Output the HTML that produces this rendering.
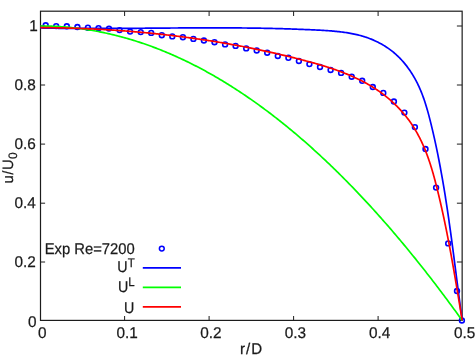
<!DOCTYPE html>
<html><head><meta charset="utf-8"><style>
html,body{margin:0;padding:0;background:#fff;}
svg{display:block;}
text{font-family:"Liberation Sans",sans-serif;font-size:15.5px;fill:#1a1a1a;stroke:#1a1a1a;stroke-width:0.25px;text-rendering:geometricPrecision;}
</style></head><body>
<svg width="476" height="357" viewBox="0 0 476 357">
<rect width="476" height="357" fill="#fff"/>
<rect x="40.5" y="11.2" width="421.65" height="309.2" fill="none" stroke="#1c1c1c" stroke-width="1.2"/>
<g fill="none" stroke="#1c1c1c" stroke-width="1"><path d="M124.6,320.4 V316.0 M124.6,11.2 V16.0"/><path d="M209.1,320.4 V316.0 M209.1,11.2 V16.0"/><path d="M293.6,320.4 V316.0 M293.6,11.2 V16.0"/><path d="M378.1,320.4 V316.0 M378.1,11.2 V16.0"/><path d="M40.5,262.0 H45.1 M462.15,262.0 H456.9"/><path d="M40.5,203.2 H45.1 M462.15,203.2 H456.9"/><path d="M40.5,144.1 H45.1 M462.15,144.1 H456.9"/><path d="M40.5,85.0 H45.1 M462.15,85.0 H456.9"/><path d="M40.5,26.0 H45.1 M462.15,26.0 H456.9"/></g>
<g fill="none" stroke="#0000ff" stroke-width="1.6"><circle cx="45.7" cy="25.3" r="2.4"/><circle cx="56.2" cy="26.1" r="2.4"/><circle cx="66.8" cy="26.3" r="2.4"/><circle cx="77.4" cy="27.0" r="2.4"/><circle cx="87.9" cy="27.7" r="2.4"/><circle cx="98.5" cy="28.2" r="2.4"/><circle cx="109.0" cy="28.6" r="2.4"/><circle cx="119.6" cy="30.1" r="2.4"/><circle cx="130.1" cy="31.6" r="2.4"/><circle cx="140.7" cy="32.1" r="2.4"/><circle cx="151.2" cy="32.9" r="2.4"/><circle cx="161.8" cy="35.2" r="2.4"/><circle cx="172.3" cy="36.4" r="2.4"/><circle cx="182.9" cy="37.2" r="2.4"/><circle cx="193.4" cy="38.9" r="2.4"/><circle cx="203.9" cy="40.5" r="2.4"/><circle cx="214.5" cy="42.2" r="2.4"/><circle cx="225.1" cy="44.4" r="2.4"/><circle cx="235.6" cy="45.9" r="2.4"/><circle cx="246.2" cy="48.4" r="2.4"/><circle cx="256.7" cy="50.5" r="2.4"/><circle cx="267.2" cy="52.7" r="2.4"/><circle cx="277.8" cy="56.0" r="2.4"/><circle cx="288.4" cy="57.8" r="2.4"/><circle cx="298.9" cy="61.0" r="2.4"/><circle cx="309.4" cy="64.1" r="2.4"/><circle cx="320.0" cy="67.0" r="2.4"/><circle cx="330.6" cy="70.0" r="2.4"/><circle cx="341.1" cy="72.9" r="2.4"/><circle cx="351.7" cy="76.7" r="2.4"/><circle cx="362.2" cy="80.8" r="2.4"/><circle cx="372.8" cy="87.0" r="2.4"/><circle cx="383.3" cy="92.9" r="2.4"/><circle cx="393.9" cy="101.5" r="2.4"/><circle cx="404.4" cy="112.6" r="2.4"/><circle cx="414.9" cy="127.1" r="2.4"/><circle cx="425.5" cy="149.0" r="2.4"/><circle cx="436.1" cy="187.6" r="2.4"/><circle cx="448.2" cy="243.4" r="2.4"/><circle cx="457.0" cy="291.0" r="2.4"/><circle cx="461.9" cy="320.5" r="2.4"/></g>
<path d="M40.40,28.00 L41.69,28.02 L42.98,28.05 L44.27,28.07 L45.56,28.09 L46.85,28.12 L48.14,28.14 L49.43,28.16 L50.72,28.18 L52.01,28.20 L53.30,28.21 L54.58,28.23 L55.87,28.25 L57.16,28.26 L58.45,28.28 L59.73,28.29 L61.02,28.31 L62.31,28.32 L63.59,28.33 L64.88,28.35 L66.17,28.36 L67.45,28.37 L68.74,28.38 L70.02,28.39 L71.31,28.40 L72.59,28.41 L73.88,28.41 L75.16,28.42 L76.44,28.43 L77.73,28.43 L79.01,28.44 L80.30,28.44 L81.58,28.45 L82.86,28.45 L84.14,28.46 L85.43,28.46 L86.71,28.46 L87.99,28.46 L89.27,28.47 L90.55,28.47 L91.84,28.47 L93.12,28.47 L94.40,28.47 L95.68,28.47 L96.96,28.47 L98.24,28.47 L99.52,28.46 L100.80,28.46 L102.08,28.46 L103.36,28.46 L104.64,28.45 L105.92,28.45 L107.20,28.45 L108.48,28.44 L109.76,28.44 L111.04,28.43 L112.32,28.43 L113.60,28.42 L114.88,28.42 L116.15,28.41 L117.43,28.40 L118.71,28.40 L119.99,28.39 L121.27,28.38 L122.54,28.38 L123.82,28.37 L125.10,28.36 L126.38,28.35 L127.65,28.34 L128.93,28.34 L130.21,28.33 L131.49,28.32 L132.76,28.31 L134.04,28.30 L135.32,28.29 L136.59,28.28 L137.87,28.27 L139.15,28.27 L140.42,28.26 L141.70,28.25 L142.98,28.24 L144.25,28.23 L145.53,28.22 L146.81,28.21 L148.08,28.20 L149.36,28.19 L150.63,28.18 L151.91,28.17 L153.19,28.16 L154.46,28.15 L155.74,28.14 L157.01,28.13 L158.29,28.12 L159.56,28.11 L160.84,28.10 L162.12,28.09 L163.39,28.08 L164.67,28.07 L165.94,28.06 L167.22,28.05 L168.49,28.04 L169.77,28.03 L171.05,28.02 L172.32,28.01 L173.60,28.00 L174.87,28.00 L176.15,27.99 L177.42,27.98 L178.70,27.97 L179.97,27.96 L181.25,27.95 L182.53,27.95 L183.80,27.94 L185.08,27.93 L186.35,27.92 L187.63,27.92 L188.90,27.91 L190.18,27.91 L191.45,27.90 L192.73,27.89 L194.01,27.89 L195.28,27.88 L196.56,27.88 L197.83,27.87 L199.11,27.87 L200.39,27.87 L201.66,27.86 L202.94,27.86 L204.21,27.86 L205.49,27.85 L206.77,27.85 L208.04,27.85 L209.32,27.85 L210.60,27.85 L211.87,27.85 L213.15,27.85 L214.43,27.85 L215.70,27.85 L216.98,27.85 L218.26,27.85 L219.54,27.85 L220.81,27.86 L222.09,27.86 L223.37,27.86 L224.65,27.87 L225.92,27.87 L227.20,27.88 L228.48,27.88 L229.76,27.89 L231.04,27.89 L232.32,27.90 L233.59,27.91 L234.87,27.92 L236.15,27.93 L237.43,27.94 L238.71,27.95 L239.99,27.96 L241.27,27.97 L242.55,27.98 L243.83,27.99 L245.11,28.01 L246.39,28.02 L247.67,28.04 L248.95,28.05 L250.23,28.07 L251.51,28.08 L252.79,28.10 L254.07,28.12 L255.35,28.14 L256.63,28.16 L257.92,28.18 L259.20,28.20 L260.48,28.22 L261.76,28.24 L263.04,28.27 L264.33,28.29 L265.61,28.32 L266.89,28.34 L268.18,28.37 L269.46,28.40 L270.74,28.43 L272.03,28.45 L273.31,28.48 L274.59,28.52 L275.88,28.55 L277.16,28.58 L278.45,28.61 L279.73,28.65 L281.02,28.68 L282.31,28.72 L283.59,28.76 L284.88,28.79 L286.16,28.83 L287.45,28.87 L288.74,28.91 L290.02,28.96 L291.31,29.00 L292.60,29.04 L293.89,29.09 L295.18,29.13 L296.46,29.18 L297.75,29.23 L299.04,29.28 L300.33,29.33 L301.62,29.38 L302.91,29.43 L304.20,29.48 L305.49,29.54 L306.78,29.59 L308.07,29.65 L309.37,29.70 L310.66,29.76 L311.95,29.82 L313.24,29.88 L314.53,29.95 L315.83,30.01 L317.12,30.07 L318.41,30.14 L319.71,30.21 L321.00,30.27 L322.29,30.35 L323.59,30.42 L324.88,30.50 L326.17,30.58 L327.47,30.66 L328.76,30.75 L330.05,30.85 L331.34,30.95 L332.62,31.05 L333.91,31.16 L335.19,31.28 L336.48,31.40 L337.76,31.53 L339.04,31.67 L340.32,31.82 L341.59,31.97 L342.86,32.14 L344.13,32.31 L345.40,32.49 L346.67,32.68 L347.93,32.88 L349.19,33.09 L350.45,33.32 L351.70,33.55 L352.95,33.80 L354.19,34.06 L355.44,34.33 L356.68,34.61 L357.91,34.91 L359.14,35.22 L360.37,35.54 L361.59,35.88 L362.81,36.24 L364.02,36.61 L365.23,36.99 L366.43,37.39 L367.63,37.81 L368.82,38.24 L370.01,38.69 L371.19,39.16 L372.36,39.65 L373.53,40.15 L374.69,40.66 L375.85,41.20 L376.99,41.75 L378.13,42.31 L379.26,42.89 L380.38,43.49 L381.49,44.11 L382.60,44.74 L383.69,45.39 L384.78,46.05 L385.85,46.73 L386.91,47.43 L387.96,48.14 L389.01,48.87 L390.03,49.61 L391.05,50.37 L392.06,51.15 L393.05,51.94 L394.03,52.75 L395.00,53.57 L395.95,54.41 L396.89,55.27 L397.81,56.14 L398.73,57.02 L399.63,57.92 L400.51,58.84 L401.38,59.76 L402.24,60.71 L403.09,61.66 L403.92,62.63 L404.74,63.61 L405.54,64.60 L406.34,65.60 L407.11,66.62 L407.88,67.64 L408.63,68.68 L409.37,69.72 L410.10,70.78 L410.81,71.85 L411.51,72.93 L412.19,74.01 L412.87,75.11 L413.53,76.21 L414.17,77.32 L414.81,78.44 L415.43,79.57 L416.04,80.70 L416.63,81.84 L417.21,82.99 L417.78,84.14 L418.34,85.30 L418.88,86.46 L419.41,87.63 L419.93,88.81 L420.44,89.99 L420.93,91.17 L421.42,92.36 L421.89,93.55 L422.35,94.75 L422.80,95.95 L423.24,97.16 L423.68,98.37 L424.10,99.58 L424.51,100.80 L424.92,102.02 L425.31,103.24 L425.70,104.47 L426.08,105.70 L426.46,106.93 L426.83,108.16 L427.19,109.40 L427.54,110.64 L427.89,111.88 L428.23,113.12 L428.57,114.36 L428.90,115.61 L429.23,116.86 L429.55,118.10 L429.87,119.35 L430.19,120.60 L430.50,121.85 L430.81,123.10 L431.12,124.36 L431.42,125.61 L431.72,126.86 L432.02,128.11 L432.32,129.36 L432.62,130.61 L432.91,131.87 L433.20,133.12 L433.49,134.37 L433.77,135.63 L434.06,136.88 L434.34,138.13 L434.62,139.39 L434.89,140.64 L435.17,141.89 L435.44,143.15 L435.71,144.40 L435.98,145.66 L436.25,146.91 L436.51,148.17 L436.77,149.42 L437.03,150.68 L437.29,151.93 L437.55,153.19 L437.80,154.44 L438.06,155.70 L438.31,156.96 L438.56,158.21 L438.80,159.47 L439.05,160.73 L439.29,161.98 L439.53,163.24 L439.77,164.50 L440.01,165.75 L440.25,167.01 L440.48,168.27 L440.71,169.53 L440.95,170.79 L441.17,172.04 L441.40,173.30 L441.63,174.56 L441.85,175.82 L442.08,177.08 L442.30,178.34 L442.52,179.60 L442.74,180.86 L442.95,182.12 L443.17,183.38 L443.38,184.64 L443.60,185.90 L443.81,187.16 L444.02,188.42 L444.23,189.68 L444.43,190.94 L444.64,192.20 L444.84,193.46 L445.05,194.72 L445.25,195.98 L445.45,197.25 L445.65,198.51 L445.85,199.77 L446.04,201.03 L446.24,202.29 L446.43,203.56 L446.63,204.82 L446.82,206.08 L447.01,207.34 L447.20,208.61 L447.39,209.87 L447.58,211.13 L447.77,212.40 L447.95,213.66 L448.14,214.93 L448.32,216.19 L448.51,217.45 L448.69,218.72 L448.87,219.98 L449.05,221.25 L449.23,222.51 L449.41,223.78 L449.59,225.04 L449.77,226.31 L449.94,227.57 L450.12,228.84 L450.30,230.10 L450.47,231.37 L450.65,232.64 L450.82,233.90 L450.99,235.17 L451.16,236.43 L451.34,237.70 L451.51,238.97 L451.68,240.23 L451.85,241.50 L452.02,242.77 L452.19,244.04 L452.35,245.30 L452.52,246.57 L452.69,247.84 L452.86,249.11 L453.02,250.37 L453.19,251.64 L453.36,252.91 L453.52,254.18 L453.69,255.45 L453.85,256.72 L454.02,257.98 L454.18,259.25 L454.35,260.52 L454.51,261.79 L454.67,263.06 L454.84,264.33 L455.00,265.60 L455.17,266.87 L455.33,268.14 L455.49,269.41 L455.66,270.68 L455.82,271.95 L455.98,273.22 L456.15,274.49 L456.31,275.76 L456.47,277.03 L456.64,278.30 L456.80,279.57 L456.96,280.84 L457.13,282.11 L457.29,283.38 L457.46,284.66 L457.62,285.93 L457.78,287.20 L457.95,288.47 L458.11,289.74 L458.28,291.01 L458.44,292.29 L458.61,293.56 L458.78,294.83 L458.94,296.10 L459.11,297.38 L459.28,298.65 L459.44,299.92 L459.61,301.19 L459.78,302.47 L459.95,303.74 L460.12,305.01 L460.29,306.29 L460.46,307.56 L460.63,308.83 L460.80,310.11 L460.98,311.38 L461.15,312.65 L461.32,313.93 L461.50,315.20 L461.67,316.48 L461.85,317.75 L462.02,319.03 L462.20,320.30" fill="none" stroke="#0000ff" stroke-width="1.7" stroke-linejoin="round"/>
<path d="M40.40,26.00 L41.81,26.00 L43.22,26.01 L44.63,26.03 L46.04,26.05 L47.46,26.08 L48.87,26.12 L50.28,26.16 L51.69,26.21 L53.10,26.27 L54.51,26.33 L55.92,26.40 L57.33,26.47 L58.74,26.56 L60.15,26.65 L61.57,26.74 L62.98,26.84 L64.39,26.95 L65.80,27.07 L67.21,27.19 L68.62,27.32 L70.03,27.45 L71.44,27.59 L72.85,27.74 L74.26,27.90 L75.68,28.06 L77.09,28.23 L78.50,28.40 L79.91,28.58 L81.32,28.77 L82.73,28.97 L84.14,29.17 L85.55,29.37 L86.96,29.59 L88.38,29.81 L89.79,30.04 L91.20,30.27 L92.61,30.51 L94.02,30.76 L95.43,31.01 L96.84,31.27 L98.25,31.54 L99.66,31.81 L101.07,32.09 L102.49,32.38 L103.90,32.67 L105.31,32.97 L106.72,33.28 L108.13,33.59 L109.54,33.91 L110.95,34.24 L112.36,34.57 L113.77,34.91 L115.18,35.26 L116.60,35.61 L118.01,35.97 L119.42,36.33 L120.83,36.71 L122.24,37.09 L123.65,37.47 L125.06,37.86 L126.47,38.26 L127.88,38.67 L129.30,39.08 L130.71,39.50 L132.12,39.92 L133.53,40.35 L134.94,40.79 L136.35,41.24 L137.76,41.69 L139.17,42.15 L140.58,42.61 L141.99,43.08 L143.41,43.56 L144.82,44.04 L146.23,44.54 L147.64,45.03 L149.05,45.54 L150.46,46.05 L151.87,46.57 L153.28,47.09 L154.69,47.62 L156.11,48.16 L157.52,48.70 L158.93,49.25 L160.34,49.81 L161.75,50.37 L163.16,50.94 L164.57,51.52 L165.98,52.10 L167.39,52.69 L168.80,53.29 L170.22,53.89 L171.63,54.50 L173.04,55.12 L174.45,55.74 L175.86,56.37 L177.27,57.01 L178.68,57.65 L180.09,58.30 L181.50,58.95 L182.91,59.61 L184.33,60.28 L185.74,60.96 L187.15,61.64 L188.56,62.33 L189.97,63.03 L191.38,63.73 L192.79,64.44 L194.20,65.15 L195.61,65.87 L197.03,66.60 L198.44,67.34 L199.85,68.08 L201.26,68.83 L202.67,69.58 L204.08,70.34 L205.49,71.11 L206.90,71.88 L208.31,72.66 L209.72,73.45 L211.14,74.25 L212.55,75.05 L213.96,75.85 L215.37,76.67 L216.78,77.49 L218.19,78.32 L219.60,79.15 L221.01,79.99 L222.42,80.84 L223.83,81.69 L225.25,82.55 L226.66,83.42 L228.07,84.29 L229.48,85.17 L230.89,86.06 L232.30,86.95 L233.71,87.85 L235.12,88.76 L236.53,89.67 L237.95,90.59 L239.36,91.51 L240.77,92.45 L242.18,93.38 L243.59,94.33 L245.00,95.28 L246.41,96.24 L247.82,97.21 L249.23,98.18 L250.64,99.16 L252.06,100.14 L253.47,101.14 L254.88,102.13 L256.29,103.14 L257.70,104.15 L259.11,105.17 L260.52,106.19 L261.93,107.22 L263.34,108.26 L264.75,109.31 L266.17,110.36 L267.58,111.42 L268.99,112.48 L270.40,113.55 L271.81,114.63 L273.22,115.71 L274.63,116.80 L276.04,117.90 L277.45,119.01 L278.87,120.12 L280.28,121.23 L281.69,122.36 L283.10,123.49 L284.51,124.62 L285.92,125.77 L287.33,126.92 L288.74,128.07 L290.15,129.24 L291.56,130.41 L292.98,131.58 L294.39,132.77 L295.80,133.96 L297.21,135.15 L298.62,136.36 L300.03,137.56 L301.44,138.78 L302.85,140.00 L304.26,141.23 L305.67,142.47 L307.09,143.71 L308.50,144.96 L309.91,146.21 L311.32,147.48 L312.73,148.75 L314.14,150.02 L315.55,151.30 L316.96,152.59 L318.37,153.89 L319.79,155.19 L321.20,156.50 L322.61,157.81 L324.02,159.13 L325.43,160.46 L326.84,161.79 L328.25,163.14 L329.66,164.48 L331.07,165.84 L332.48,167.20 L333.90,168.57 L335.31,169.94 L336.72,171.32 L338.13,172.71 L339.54,174.10 L340.95,175.50 L342.36,176.91 L343.77,178.32 L345.18,179.74 L346.59,181.17 L348.01,182.60 L349.42,184.04 L350.83,185.49 L352.24,186.94 L353.65,188.40 L355.06,189.87 L356.47,191.34 L357.88,192.82 L359.29,194.31 L360.71,195.80 L362.12,197.30 L363.53,198.81 L364.94,200.32 L366.35,201.84 L367.76,203.36 L369.17,204.90 L370.58,206.44 L371.99,207.98 L373.40,209.53 L374.82,211.09 L376.23,212.66 L377.64,214.23 L379.05,215.81 L380.46,217.39 L381.87,218.98 L383.28,220.58 L384.69,222.19 L386.10,223.80 L387.52,225.42 L388.93,227.04 L390.34,228.67 L391.75,230.31 L393.16,231.95 L394.57,233.60 L395.98,235.26 L397.39,236.93 L398.80,238.60 L400.21,240.27 L401.63,241.96 L403.04,243.65 L404.45,245.35 L405.86,247.05 L407.27,248.76 L408.68,250.48 L410.09,252.20 L411.50,253.93 L412.91,255.67 L414.32,257.41 L415.74,259.16 L417.15,260.92 L418.56,262.68 L419.97,264.45 L421.38,266.22 L422.79,268.01 L424.20,269.80 L425.61,271.59 L427.02,273.40 L428.44,275.20 L429.85,277.02 L431.26,278.84 L432.67,280.67 L434.08,282.51 L435.49,284.35 L436.90,286.20 L438.31,288.05 L439.72,289.91 L441.13,291.78 L442.55,293.66 L443.96,295.54 L445.37,297.43 L446.78,299.32 L448.19,301.22 L449.60,303.13 L451.01,305.05 L452.42,306.97 L453.83,308.90 L455.24,310.83 L456.66,312.77 L458.07,314.72 L459.48,316.67 L460.89,318.63 L462.30,320.60" fill="none" stroke="#00ff00" stroke-width="1.7" stroke-linejoin="round"/>
<path d="M40.40,27.60 L41.61,27.61 L42.82,27.62 L44.02,27.63 L45.23,27.64 L46.44,27.65 L47.64,27.66 L48.85,27.68 L50.06,27.69 L51.26,27.71 L52.47,27.73 L53.67,27.75 L54.88,27.77 L56.08,27.79 L57.29,27.81 L58.49,27.83 L59.70,27.86 L60.90,27.88 L62.10,27.91 L63.31,27.94 L64.51,27.97 L65.71,28.00 L66.92,28.03 L68.12,28.06 L69.32,28.10 L70.52,28.13 L71.72,28.17 L72.93,28.20 L74.13,28.24 L75.33,28.28 L76.53,28.32 L77.73,28.36 L78.93,28.41 L80.13,28.45 L81.33,28.49 L82.53,28.54 L83.73,28.59 L84.93,28.64 L86.13,28.69 L87.33,28.74 L88.52,28.79 L89.72,28.84 L90.92,28.90 L92.12,28.95 L93.32,29.01 L94.51,29.07 L95.71,29.13 L96.91,29.19 L98.10,29.25 L99.30,29.31 L100.50,29.38 L101.69,29.44 L102.89,29.51 L104.09,29.58 L105.28,29.65 L106.48,29.72 L107.67,29.79 L108.87,29.86 L110.06,29.94 L111.26,30.01 L112.45,30.09 L113.64,30.17 L114.84,30.24 L116.03,30.32 L117.23,30.41 L118.42,30.49 L119.61,30.57 L120.80,30.66 L122.00,30.74 L123.19,30.83 L124.38,30.92 L125.57,31.01 L126.77,31.10 L127.96,31.19 L129.15,31.29 L130.34,31.38 L131.53,31.48 L132.72,31.58 L133.91,31.68 L135.10,31.78 L136.29,31.88 L137.48,31.98 L138.67,32.08 L139.86,32.19 L141.05,32.30 L142.24,32.40 L143.43,32.51 L144.62,32.62 L145.81,32.74 L147.00,32.85 L148.19,32.96 L149.38,33.08 L150.56,33.19 L151.75,33.31 L152.94,33.43 L154.13,33.55 L155.32,33.68 L156.50,33.80 L157.69,33.92 L158.88,34.05 L160.06,34.18 L161.25,34.31 L162.44,34.44 L163.62,34.57 L164.81,34.70 L166.00,34.83 L167.18,34.97 L168.37,35.11 L169.55,35.24 L170.74,35.38 L171.92,35.52 L173.11,35.67 L174.29,35.81 L175.48,35.95 L176.66,36.10 L177.85,36.25 L179.03,36.40 L180.21,36.55 L181.40,36.70 L182.58,36.85 L183.77,37.01 L184.95,37.16 L186.13,37.32 L187.32,37.48 L188.50,37.64 L189.68,37.80 L190.86,37.96 L192.05,38.12 L193.23,38.29 L194.41,38.46 L195.59,38.63 L196.78,38.79 L197.96,38.97 L199.14,39.14 L200.32,39.31 L201.50,39.49 L202.68,39.66 L203.87,39.84 L205.05,40.02 L206.23,40.20 L207.41,40.38 L208.59,40.57 L209.77,40.75 L210.95,40.94 L212.13,41.13 L213.31,41.31 L214.49,41.51 L215.67,41.70 L216.85,41.89 L218.03,42.09 L219.21,42.28 L220.39,42.48 L221.57,42.68 L222.75,42.88 L223.92,43.08 L225.10,43.29 L226.28,43.49 L227.46,43.70 L228.64,43.90 L229.82,44.11 L231.00,44.32 L232.17,44.54 L233.35,44.75 L234.53,44.97 L235.71,45.18 L236.89,45.40 L238.06,45.62 L239.24,45.84 L240.42,46.06 L241.60,46.29 L242.77,46.51 L243.95,46.74 L245.13,46.97 L246.30,47.20 L247.48,47.43 L248.66,47.66 L249.83,47.90 L251.01,48.13 L252.19,48.37 L253.36,48.61 L254.54,48.85 L255.71,49.09 L256.89,49.34 L258.07,49.58 L259.24,49.83 L260.42,50.08 L261.59,50.33 L262.77,50.58 L263.94,50.83 L265.12,51.08 L266.29,51.34 L267.47,51.60 L268.64,51.85 L269.82,52.11 L270.99,52.38 L272.17,52.64 L273.34,52.90 L274.52,53.17 L275.69,53.44 L276.87,53.71 L278.04,53.98 L279.21,54.25 L280.39,54.53 L281.56,54.80 L282.74,55.08 L283.91,55.36 L285.08,55.64 L286.26,55.92 L287.43,56.20 L288.61,56.49 L289.78,56.77 L290.95,57.06 L292.13,57.35 L293.30,57.64 L294.47,57.94 L295.65,58.23 L296.82,58.53 L297.99,58.83 L299.17,59.12 L300.34,59.43 L301.51,59.73 L302.68,60.03 L303.86,60.34 L305.03,60.65 L306.20,60.96 L307.37,61.27 L308.54,61.58 L309.71,61.90 L310.88,62.22 L312.05,62.54 L313.22,62.87 L314.38,63.19 L315.55,63.52 L316.72,63.86 L317.88,64.19 L319.04,64.53 L320.20,64.87 L321.36,65.22 L322.52,65.57 L323.68,65.92 L324.83,66.28 L325.99,66.64 L327.14,67.00 L328.29,67.37 L329.44,67.75 L330.58,68.12 L331.73,68.50 L332.87,68.89 L334.01,69.28 L335.14,69.67 L336.28,70.07 L337.41,70.48 L338.54,70.89 L339.67,71.30 L340.79,71.72 L341.91,72.15 L343.03,72.58 L344.15,73.01 L345.26,73.45 L346.37,73.90 L347.48,74.35 L348.58,74.81 L349.69,75.28 L350.78,75.75 L351.88,76.22 L352.97,76.71 L354.05,77.19 L355.14,77.69 L356.22,78.19 L357.29,78.70 L358.36,79.22 L359.43,79.74 L360.49,80.27 L361.55,80.81 L362.61,81.35 L363.66,81.90 L364.71,82.46 L365.75,83.03 L366.79,83.60 L367.82,84.18 L368.85,84.77 L369.87,85.37 L370.89,85.98 L371.91,86.59 L372.92,87.21 L373.92,87.84 L374.92,88.48 L375.91,89.13 L376.90,89.79 L377.89,90.45 L378.87,91.13 L379.84,91.81 L380.80,92.50 L381.77,93.20 L382.72,93.91 L383.67,94.63 L384.62,95.36 L385.55,96.10 L386.48,96.84 L387.41,97.60 L388.33,98.36 L389.24,99.13 L390.15,99.91 L391.04,100.70 L391.93,101.50 L392.82,102.30 L393.69,103.12 L394.56,103.94 L395.43,104.77 L396.28,105.61 L397.13,106.46 L397.96,107.31 L398.79,108.18 L399.62,109.05 L400.43,109.93 L401.23,110.81 L402.03,111.71 L402.82,112.61 L403.60,113.52 L404.37,114.43 L405.13,115.36 L405.88,116.29 L406.62,117.23 L407.36,118.18 L408.08,119.13 L408.79,120.09 L409.50,121.06 L410.19,122.03 L410.87,123.01 L411.55,124.00 L412.21,125.00 L412.87,126.00 L413.51,127.01 L414.14,128.02 L414.77,129.04 L415.38,130.07 L415.99,131.10 L416.59,132.14 L417.17,133.18 L417.75,134.23 L418.32,135.29 L418.88,136.35 L419.43,137.41 L419.97,138.48 L420.51,139.55 L421.03,140.63 L421.55,141.71 L422.06,142.80 L422.55,143.89 L423.04,144.99 L423.53,146.08 L424.00,147.19 L424.47,148.29 L424.93,149.40 L425.38,150.52 L425.82,151.63 L426.26,152.75 L426.69,153.88 L427.11,155.00 L427.53,156.13 L427.94,157.26 L428.34,158.40 L428.73,159.53 L429.12,160.67 L429.51,161.81 L429.89,162.96 L430.26,164.11 L430.63,165.25 L430.99,166.40 L431.35,167.56 L431.70,168.71 L432.04,169.87 L432.39,171.03 L432.72,172.18 L433.06,173.34 L433.39,174.51 L433.71,175.67 L434.03,176.83 L434.35,178.00 L434.67,179.17 L434.98,180.33 L435.28,181.50 L435.59,182.67 L435.89,183.84 L436.19,185.01 L436.49,186.18 L436.78,187.35 L437.07,188.52 L437.36,189.69 L437.65,190.86 L437.94,192.03 L438.22,193.19 L438.50,194.36 L438.78,195.53 L439.06,196.70 L439.34,197.87 L439.61,199.04 L439.89,200.21 L440.16,201.38 L440.43,202.55 L440.70,203.72 L440.96,204.89 L441.23,206.05 L441.49,207.22 L441.76,208.39 L442.02,209.56 L442.27,210.73 L442.53,211.90 L442.79,213.07 L443.04,214.24 L443.29,215.41 L443.55,216.57 L443.80,217.74 L444.04,218.91 L444.29,220.08 L444.54,221.25 L444.78,222.42 L445.02,223.59 L445.27,224.76 L445.51,225.93 L445.75,227.10 L445.98,228.27 L446.22,229.44 L446.46,230.61 L446.69,231.78 L446.92,232.95 L447.15,234.12 L447.38,235.29 L447.61,236.46 L447.84,237.63 L448.07,238.80 L448.30,239.97 L448.52,241.14 L448.74,242.31 L448.97,243.48 L449.19,244.65 L449.41,245.82 L449.63,247.00 L449.85,248.17 L450.07,249.34 L450.29,250.51 L450.50,251.69 L450.72,252.86 L450.93,254.03 L451.15,255.21 L451.36,256.38 L451.57,257.55 L451.78,258.73 L451.99,259.90 L452.20,261.08 L452.41,262.25 L452.62,263.43 L452.83,264.60 L453.04,265.78 L453.24,266.95 L453.45,268.13 L453.66,269.31 L453.86,270.48 L454.07,271.66 L454.27,272.84 L454.47,274.02 L454.68,275.20 L454.88,276.38 L455.08,277.55 L455.28,278.73 L455.48,279.91 L455.68,281.09 L455.88,282.28 L456.08,283.46 L456.28,284.64 L456.48,285.82 L456.68,287.00 L456.88,288.18 L457.08,289.37 L457.27,290.55 L457.47,291.74 L457.67,292.92 L457.87,294.10 L458.06,295.29 L458.26,296.48 L458.46,297.66 L458.66,298.85 L458.85,300.04 L459.05,301.22 L459.25,302.41 L459.44,303.60 L459.64,304.79 L459.83,305.98 L460.03,307.17 L460.23,308.36 L460.42,309.55 L460.62,310.74 L460.82,311.94 L461.02,313.13 L461.21,314.32 L461.41,315.52 L461.61,316.71 L461.80,317.91 L462.00,319.10 L462.20,320.30" fill="none" stroke="#ff0000" stroke-width="1.7" stroke-linejoin="round"/>
<g style="will-change:transform">
<text transform="translate(42.30,337.65) scale(0.99,1)" text-anchor="middle">0</text><text transform="translate(127.20,337.65) scale(0.99,1)" text-anchor="middle">0.1</text><text transform="translate(210.80,337.65) scale(0.99,1)" text-anchor="middle">0.2</text><text transform="translate(295.30,337.65) scale(0.99,1)" text-anchor="middle">0.3</text><text transform="translate(379.70,337.65) scale(0.99,1)" text-anchor="middle">0.4</text><text transform="translate(464.70,337.65) scale(0.99,1)" text-anchor="middle">0.5</text>
<text transform="translate(36.65,326.60) scale(0.99,1)" text-anchor="end">0</text><text transform="translate(35.75,267.45) scale(0.99,1)" text-anchor="end">0.2</text><text transform="translate(35.75,208.30) scale(0.99,1)" text-anchor="end">0.4</text><text transform="translate(35.75,149.15) scale(0.99,1)" text-anchor="end">0.6</text><text transform="translate(35.75,90.00) scale(0.99,1)" text-anchor="end">0.8</text><text transform="translate(37.75,30.85) scale(0.99,1)" text-anchor="end">1</text>
<text transform="translate(251.60,353.80) scale(0.975,1)" text-anchor="middle" letter-spacing="1">r/D</text>
<text transform="translate(13.3,183.4) rotate(-90) scale(0.99,1)" style="font-size:14.9px;letter-spacing:0.5px">u/U<tspan style="font-size:12.2px" dy="3.4">0</tspan></text>
<text transform="translate(134.70,254.40) scale(0.953,1)" text-anchor="end">Exp Re=7200</text>
<text transform="translate(134.70,272.20) scale(0.92,1)" text-anchor="end">U<tspan style="font-size:12.5px" dy="-5.6">T</tspan></text>
<text transform="translate(134.70,291.60) scale(0.92,1)" text-anchor="end">U<tspan style="font-size:12.5px" dy="-5.6">L</tspan></text>
<text transform="translate(134.30,312.60) scale(0.92,1)" text-anchor="end">U</text>
</g>
<circle cx="161.8" cy="248.6" r="2.4" fill="none" stroke="#0000ff" stroke-width="1.5"/>
<path d="M142.8,267.9 H181" stroke="#0000ff" stroke-width="1.7"/>
<path d="M142.8,287.4 H181" stroke="#00ff00" stroke-width="1.7"/>
<path d="M142.8,306.8 H181" stroke="#ff0000" stroke-width="1.7"/>
</svg>
</body></html>
